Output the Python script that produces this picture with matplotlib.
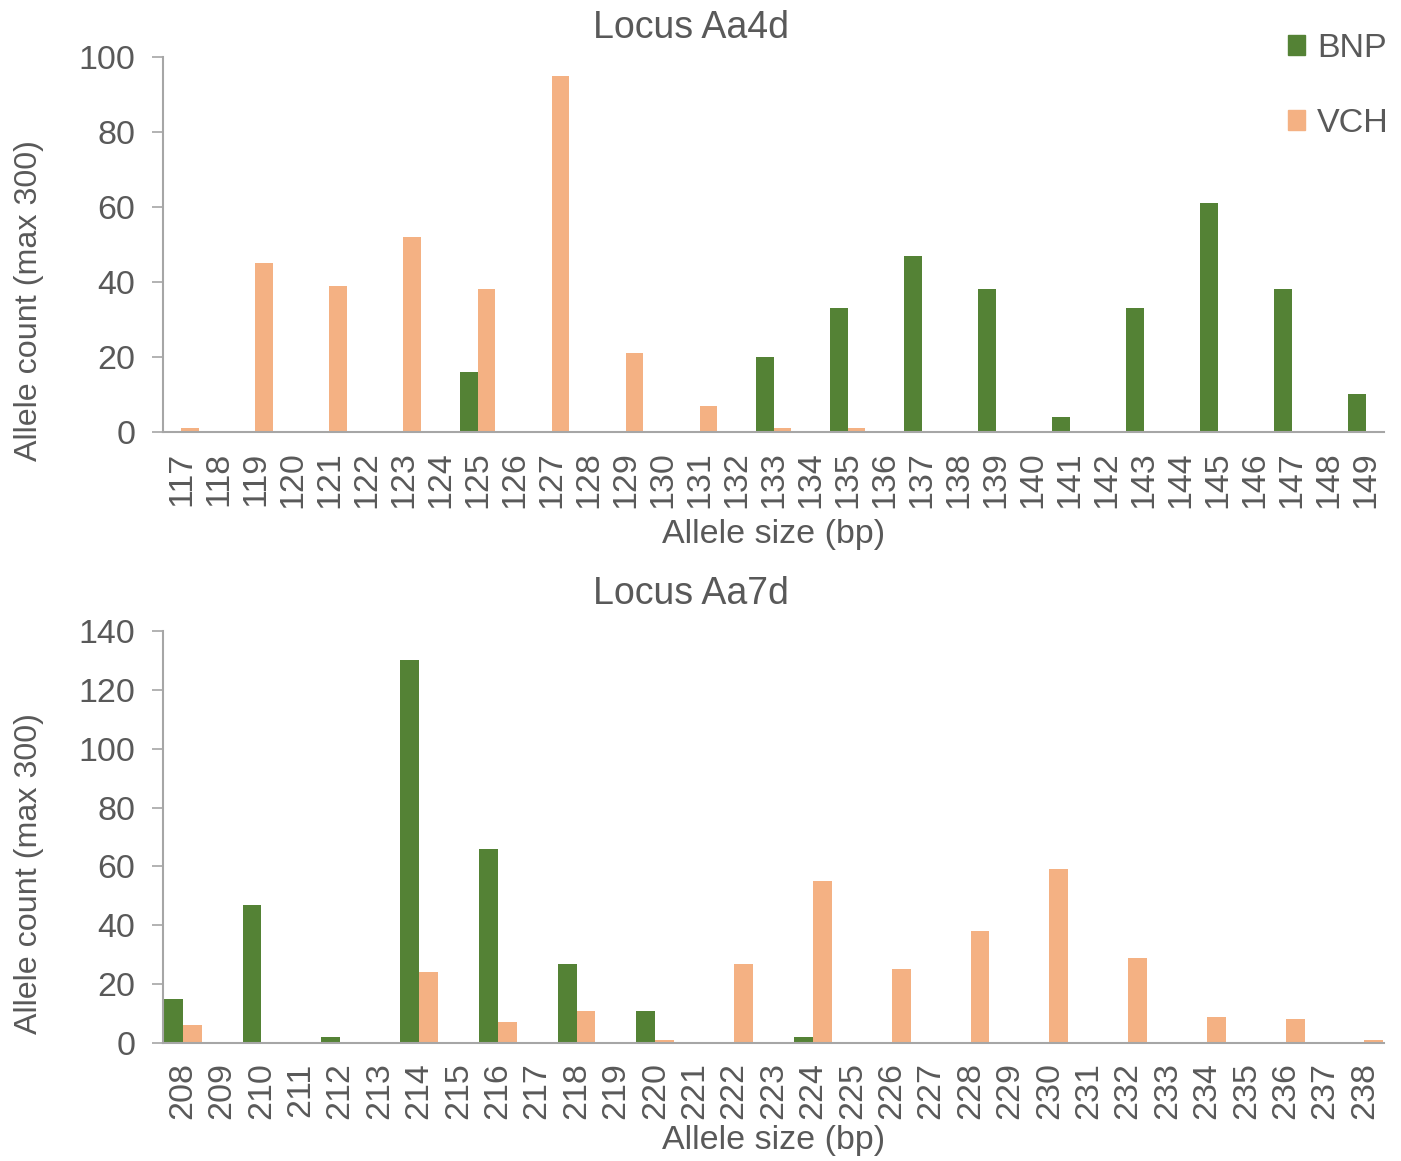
import numpy as np
import matplotlib.pyplot as plt
from matplotlib.patches import Patch

plt.rcParams['font.family'] = ['Liberation Sans', 'DejaVu Sans']

# Locus Aa4d
sizes_a4 = list(range(117, 150))
bnp_a4 = [0, 0, 0, 0, 0, 0, 0, 0, 16, 0, 0, 0, 0, 0, 0, 0, 20, 0, 33, 0, 47, 0, 38, 0, 4, 0, 33, 0, 61, 0, 38, 0, 10]
vch_a4 = [1, 0, 45, 0, 39, 0, 52, 0, 38, 0, 95, 0, 21, 0, 7, 0, 1, 0, 1, 0, 0, 0, 0, 0, 0, 0, 0, 0, 0, 0, 0, 0, 0]

# Locus Aa7d
sizes_a7 = list(range(208, 239))
bnp_a7 = [15, 0, 47, 0, 2, 0, 130, 0, 66, 0, 27, 0, 11, 0, 0, 0, 2, 0, 0, 0, 0, 0, 0, 0, 0, 0, 0, 0, 0, 0, 0]
vch_a7 = [6, 0, 0, 0, 0, 0, 24, 0, 7, 0, 11, 0, 1, 0, 27, 0, 55, 0, 25, 0, 38, 0, 59, 0, 29, 0, 9, 0, 8, 0, 1]

green = '#548235'
orange = '#F4B183'
txt = '#595959'
spine = '#A6A6A6'
fs = 24.5

fig = plt.figure(figsize=(14.01, 11.61), dpi=100)
ax1 = fig.add_axes([0.1163, 0.628, 0.8717, 0.323])
ax2 = fig.add_axes([0.1163, 0.1016, 0.8717, 0.355])


def draw(ax, sizes, bnp, vch, ymax, step, title, title_y, xpad):
    x = np.arange(len(sizes))
    w = 0.48
    ax.bar(x - w / 2, bnp, width=w, color=green, label='BNP')
    ax.bar(x + w / 2, vch, width=w, color=orange, label='VCH')
    ax.set_xlim(-0.5, len(sizes) - 0.5)
    ax.set_ylim(0, ymax)
    ax.set_yticks(np.arange(0, ymax + 1, step))
    ax.set_xticks(x)
    ax.set_xticklabels([str(s) for s in sizes], rotation=90)
    ax.tick_params(axis='x', length=0, labelsize=fs, colors=txt, pad=14)
    ax.tick_params(axis='y', length=8, width=1.2, color=spine, labelsize=fs,
                   labelcolor=txt, pad=12)
    for s in ['top', 'right']:
        ax.spines[s].set_visible(False)
    for s in ['left', 'bottom']:
        ax.spines[s].set_color(spine)
        ax.spines[s].set_linewidth(1.5)
    fig.text(0.493, title_y, title, fontsize=27, color=txt, ha='center', va='center')
    ax.set_xlabel('Allele size (bp)', fontsize=fs, color=txt, labelpad=xpad)
    ax.set_ylabel('Allele count (max 300)', fontsize=23.2, color=txt)


draw(ax1, sizes_a4, bnp_a4, vch_a4, 100, 20, 'Locus Aa4d', 1 - 28 / 1161, 8)
draw(ax2, sizes_a7, bnp_a7, vch_a7, 140, 20, 'Locus Aa7d', 1 - 594 / 1161, 4)
ax1.yaxis.set_label_coords(-0.097, 0.35)
ax2.yaxis.set_label_coords(-0.097, 0.41)

handles = [Patch(color=green, label='BNP'), Patch(color=orange, label='VCH')]
leg = fig.legend(handles=handles, loc='upper right', bbox_to_anchor=(1.013, 0.998),
                 frameon=False, fontsize=fs, handlelength=0.5, handleheight=0.5,
                 handletextpad=0.35, labelspacing=1.3)
for t in leg.get_texts():
    t.set_color(txt)

fig.savefig('out.png', dpi=100)
